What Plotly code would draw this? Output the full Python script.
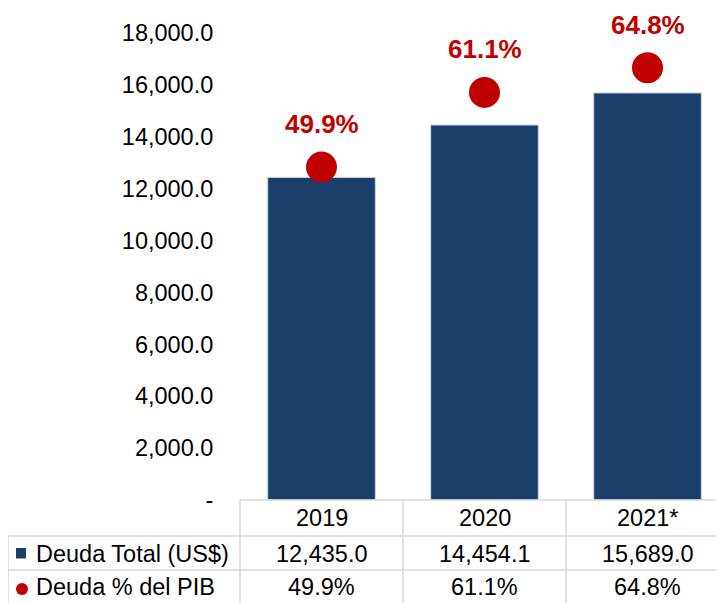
import plotly.graph_objects as go

categories = ["2019", "2020", "2021*"]
deuda_total = [12435.0, 14454.1, 15689.0]
deuda_pib = [49.9, 61.1, 64.8]
y_ticks = [0, 2000, 4000, 6000, 8000, 10000, 12000, 14000, 16000, 18000]
row_labels = ["Deuda Total (US$)", "Deuda % del PIB"]

NAVY = "#1B3F6B"
RED = "#C00000"
GRID = "#D9D9D9"
FONT = "Arial, Liberation Sans, sans-serif"

OFF = 8  # page body margin
W, H = 724 - OFF, 603 - OFF
ML, MT = 240 - OFF, 33 - OFF
MB = H - (500 - OFF)
MR = 0
PW, PH = W - ML - MR, H - MT - MB

xs = list(range(len(categories)))
cat_px = 163.0
x_range = [-0.5, -0.5 + PW / cat_px]


def px_x(p):
    # page pixel -> paper x
    return (p - OFF - ML) / PW


def px_y(p):
    # page pixel -> paper y
    return (H - MB - (p - OFF)) / PH


def fmt_ticks(v):
    return "-" if v == 0 else f"{v:,.1f}"


fig = go.Figure()
fig.add_trace(go.Bar(
    x=xs, y=deuda_total, width=0.66,
    marker=dict(color=NAVY, line=dict(color="#C9D3E0", width=1)),
    name=row_labels[0], yaxis="y", hoverinfo="skip",
))
fig.add_trace(go.Scatter(
    x=xs, y=deuda_pib, mode="markers",
    marker=dict(color=RED, size=31, line=dict(width=0)),
    name=row_labels[1], yaxis="y2", hoverinfo="skip",
))

# labels above dots
for i, v in enumerate(deuda_pib):
    fig.add_annotation(x=xs[i], y=v, xref="x", yref="y2", yshift=43,
                       xanchor="center", yanchor="middle",
                       text=f"<b>{v:.1f}%</b>", showarrow=False,
                       font=dict(family=FONT, size=26, color=RED))

# table grid
shapes = []
line = dict(color=GRID, width=1.5)
y_top, y_r1, y_r2, y_bot = 500, 536, 570, 603
shapes.append(dict(type="line", xref="paper", yref="paper", x0=px_x(240), x1=1.02,
                   y0=px_y(y_top), y1=px_y(y_top), line=line))
for yy in (y_r1, y_r2):
    shapes.append(dict(type="line", xref="paper", yref="paper", x0=px_x(8), x1=1.02,
                       y0=px_y(yy), y1=px_y(yy), line=line))
shapes.append(dict(type="line", xref="paper", yref="paper", x0=px_x(8), x1=px_x(8),
                   y0=px_y(y_r1), y1=px_y(y_bot + 5), line=line))
for i in range(len(categories)):
    xb = px_x(240 + i * cat_px)
    shapes.append(dict(type="line", xref="paper", yref="paper", x0=xb, x1=xb,
                       y0=px_y(y_top), y1=px_y(y_bot + 5), line=line))

# legend keys in table
shapes.append(dict(type="rect", xref="paper", yref="paper",
                   x0=px_x(16), x1=px_x(26), y0=px_y(558.5), y1=px_y(548),
                   fillcolor=NAVY, line=dict(width=0)))
shapes.append(dict(type="circle", xref="paper", yref="paper",
                   x0=px_x(16), x1=px_x(28), y0=px_y(595), y1=px_y(583),
                   fillcolor=RED, line=dict(width=0)))

tfont = dict(family=FONT, size=23.5, color="#000000")
row_y = [px_y(518), px_y(553.5), px_y(587)]
for i, c in enumerate(categories):
    fig.add_annotation(x=xs[i], xref="x", y=row_y[0], yref="paper", text=c,
                       xanchor="center", yanchor="middle",
                       showarrow=False, font=tfont)
    fig.add_annotation(x=xs[i], xref="x", y=row_y[1], yref="paper",
                       xanchor="center", yanchor="middle",
                       text=f"{deuda_total[i]:,.1f}", showarrow=False, font=tfont)
    fig.add_annotation(x=xs[i], xref="x", y=row_y[2], yref="paper",
                       xanchor="center", yanchor="middle",
                       text=f"{deuda_pib[i]:.1f}%", showarrow=False, font=tfont)
for j, lab in enumerate(row_labels):
    fig.add_annotation(x=px_x(34), xref="paper", y=row_y[j + 1], yref="paper",
                       text=lab, showarrow=False, xanchor="left", yanchor="middle",
                       font=tfont)

fig.update_layout(
    width=W, height=H,
    margin=dict(l=ML, r=MR, t=MT, b=MB, pad=0),
    paper_bgcolor="white", plot_bgcolor="white",
    showlegend=False,
    shapes=shapes,
    xaxis=dict(range=x_range, showticklabels=False, showgrid=False,
               zeroline=False, showline=False, ticks=""),
    yaxis=dict(range=[0, 18000], tickvals=y_ticks,
               ticktext=[fmt_ticks(v) for v in y_ticks],
               showgrid=False, zeroline=False, showline=False,
               ticks="outside", ticklen=21, tickcolor="rgba(0,0,0,0)",
               tickfont=dict(family=FONT, size=23.5, color="#000000")),
    yaxis2=dict(range=[0, 70], overlaying="y", side="right", visible=False,
                showgrid=False, zeroline=False),
)

fig.write_html("out.html")
